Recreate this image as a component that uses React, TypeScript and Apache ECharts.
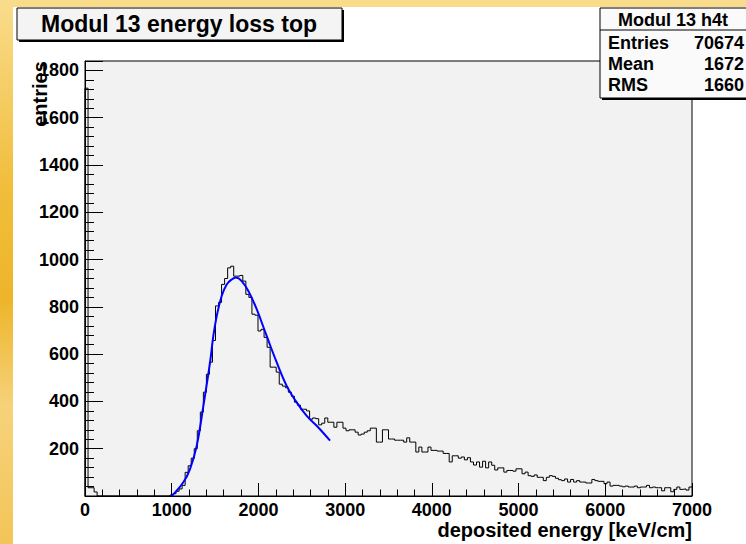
import React, { useEffect, useRef } from 'react';
import * as echarts from 'echarts';

const X_MIN = 0;
const X_MAX = 7000;
const Y_MIN = 0;
const Y_MAX = 1840;
const BIN_WIDTH = 35;

// entries per bin (200 bins of 35 keV/cm, from 0 to 7000)
const binCounts = [
  1725, 35, 35, 17, 0, 0, 0, 0, 0, 0,
  0, 0, 0, 0, 0, 0, 0, 0, 0, 0,
  0, 0, 0, 0, 0, 0, 0, 0, 4, 10,
  20, 30, 45, 100, 128, 160, 200, 276, 355, 439,
  515, 566, 658, 804, 819, 895, 920, 965, 972, 930,
  930, 933, 909, 853, 840, 769, 765, 698, 705, 671,
  629, 545, 545, 524, 473, 465, 458, 439, 422, 397,
  384, 367, 367, 360, 325, 330, 327, 301, 308, 330,
  312, 312, 291, 312, 312, 287, 276, 280, 280, 270,
  258, 262, 270, 276, 287, 287, 228, 228, 280, 280,
  241, 241, 236, 236, 236, 228, 246, 228, 228, 186,
  207, 186, 186, 207, 193, 193, 190, 190, 180, 180,
  144, 170, 170, 160, 165, 153, 162, 144, 131, 144,
  122, 147, 119, 144, 130, 110, 119, 119, 101, 108,
  108, 105, 115, 115, 94, 101, 86, 83, 89, 79,
  79, 65, 79, 86, 83, 75, 69, 65, 72, 59,
  70, 59, 65, 59, 59, 55, 55, 70, 65, 62,
  62, 52, 59, 42, 45, 45, 42, 39, 42, 38,
  38, 42, 35, 38, 38, 45, 35, 38, 35, 35,
  22, 35, 35, 18, 28, 38, 28, 30, 25, 38,
];

// fitted curve (blue)
const fitEnergy = [1000, 1134, 1211, 1288, 1365, 1442, 1480, 1519, 1576, 1634, 1692, 1741, 1807, 1884, 1980, 2095, 2211, 2326, 2441, 2557, 2672, 2826];
const fitEntries = [0, 58, 114, 212, 381, 565, 677, 761, 846, 895, 916, 924, 909, 867, 790, 677, 565, 466, 396, 339, 297, 234];

const titleText = 'Modul 13 energy loss top';
const xTitle = 'deposited energy [keV/cm]';
const yTitle = 'entries';
const statsName = 'Modul 13 h4t';
const statsLabels = ['Entries', 'Mean', 'RMS'];
const statsValues = ['70674', '1672', '1660'];

const FONT = '"Liberation Sans", Arial, Helvetica, sans-serif';

export default function App() {
  const ref = useRef<HTMLDivElement>(null);

  useEffect(() => {
    if (!ref.current) return;
    const chart = echarts.init(ref.current, undefined, { renderer: 'svg' });

    const histData: number[][] = [[X_MIN, 0]];
    binCounts.forEach((c, i) => histData.push([X_MIN + i * BIN_WIDTH, c]));
    histData.push([X_MIN + binCounts.length * BIN_WIDTH, binCounts[binCounts.length - 1]]);

    const fitData = fitEnergy.map((e, i) => [e, fitEntries[i]]);

    const txt = (x: number, y: number, text: string, size: number, align: string, extra: any = {}) => ({
      type: 'text',
      x,
      y,
      z: 100,
      ...extra,
      style: {
        text,
        fill: '#000',
        font: `bold ${size}px ${FONT}`,
        textAlign: align,
        textVerticalAlign: 'middle',
        align,
        verticalAlign: 'middle',
      },
    });

    const statsRowsY = [43, 64, 85];

    const option: any = {
      animation: false,
      backgroundColor: 'transparent',
      grid: {
        left: 85,
        top: 61,
        right: 54,
        bottom: 48,
        show: true,
        backgroundColor: '#f2f2f2',
        borderColor: '#000',
        borderWidth: 1,
      },
      xAxis: {
        type: 'value',
        min: X_MIN,
        max: X_MAX,
        interval: 1000,
        axisLine: { show: true, onZero: false, lineStyle: { color: '#000', width: 1 } },
        axisTick: { show: true, inside: true, length: 13, lineStyle: { color: '#000' } },
        minorTick: { show: true, splitNumber: 5, length: 6.5, lineStyle: { color: '#000' } },
        splitLine: { show: false },
        axisLabel: {
          color: '#000',
          fontFamily: FONT,
          fontWeight: 'bold',
          fontSize: 18,
          margin: 5,
          formatter: (v: number) => String(v),
        },
      },
      yAxis: [
        {
          type: 'value',
          min: Y_MIN,
          max: Y_MAX,
          interval: 200,
          axisLine: { show: true, onZero: false, lineStyle: { color: '#000', width: 1 } },
          axisTick: { show: true, inside: true, length: 18, lineStyle: { color: '#000' } },
          splitLine: { show: false },
          axisLabel: {
            color: '#000',
            fontFamily: FONT,
            fontWeight: 'bold',
            fontSize: 18,
            margin: 6,
            formatter: (v: number) => (v === 0 || v % 200 !== 0 ? '' : String(v)),
          },
        },
        {
          type: 'value',
          min: Y_MIN,
          max: Y_MAX,
          interval: 40,
          position: 'left',
          axisLine: { show: false },
          axisTick: { show: true, inside: true, length: 9, lineStyle: { color: '#000' } },
          splitLine: { show: false },
          axisLabel: { show: false },
        },
      ],
      series: [
        {
          type: 'line',
          data: histData,
          step: 'end',
          symbol: 'none',
          yAxisIndex: 0,
          lineStyle: { color: '#000', width: 1 },
          z: 3,
        },
        {
          type: 'line',
          data: fitData,
          smooth: 0.4,
          symbol: 'none',
          yAxisIndex: 0,
          lineStyle: { color: '#0000ff', width: 2 },
          z: 4,
        },
      ],
      graphic: [
        // title box
        { type: 'rect', z: 90, shape: { x: 19, y: 10, width: 325, height: 32 }, style: { fill: '#000' } },
        { type: 'rect', z: 91, shape: { x: 17, y: 8, width: 325, height: 32 }, style: { fill: '#f4f4f4', stroke: '#000', lineWidth: 1 } },
        txt(179, 24, titleText, 23, 'center'),
        // stats box
        { type: 'rect', z: 90, shape: { x: 602, y: 10, width: 160, height: 90 }, style: { fill: '#000' } },
        { type: 'rect', z: 91, shape: { x: 600, y: 8, width: 160, height: 90 }, style: { fill: '#fafafa', stroke: '#000', lineWidth: 1 } },
        { type: 'line', z: 92, shape: { x1: 600, y1: 30, x2: 746, y2: 30 }, style: { stroke: '#000', lineWidth: 1 } },
        txt(673, 20, statsName, 18, 'center'),
        ...statsLabels.map((l, i) => txt(608, statsRowsY[i], l, 18, 'left')),
        ...statsValues.map((v, i) => txt(744, statsRowsY[i], v, 18, 'right')),
        // axis titles
        txt(692, 530, xTitle, 20, 'right'),
        txt(40, 94, yTitle, 20, 'center', { rotation: Math.PI / 2 }),
      ],
    };

    chart.setOption(option);
    return () => chart.dispose();
  }, []);

  return (
    <div
      style={{
        position: 'absolute',
        left: 0,
        top: 0,
        width: 746,
        height: 544,
        overflow: 'hidden',
        background: 'linear-gradient(180deg, #f9dc8c 0%, #f1bd3a 35%, #eeb52a 55%, #f6d27a 75%, #f3c558 100%)',
      }}
    >
      <div style={{ position: 'absolute', left: 13, top: 7, right: 0, bottom: 0, background: '#ffffff' }} />
      <div ref={ref} style={{ position: 'absolute', left: 0, top: 0, width: 746, height: 544 }} />
    </div>
  );
}
